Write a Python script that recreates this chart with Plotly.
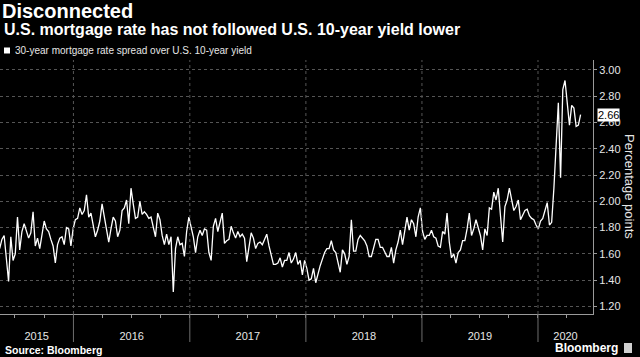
import pandas as pd
import plotly.graph_objects as go

# ---------------- data ----------------
start_date = "2015-05-14"
spread = [
    1.64, 1.71, 1.74, 1.53, 1.39, 1.73, 1.55, 1.60, 1.88, 1.63,
    1.77, 1.83, 1.78, 1.72, 1.76, 1.92, 1.66, 1.72, 1.64, 1.74,
    1.85, 1.79, 1.77, 1.71, 1.66, 1.53, 1.67, 1.72, 1.73, 1.67,
    1.80, 1.79, 1.66, 1.79, 1.86, 1.87, 1.95, 1.90, 1.93, 2.05,
    1.88, 1.91, 1.81, 1.73, 1.78, 1.85, 1.98, 1.88, 1.81, 1.69,
    1.79, 1.88, 1.85, 1.73, 1.78, 1.93, 1.95, 2.01, 1.83, 2.10,
    1.98, 1.87, 1.88, 2.00, 1.90, 1.92, 1.90, 1.87, 1.88, 1.79,
    1.73, 1.91, 1.86, 1.74, 1.67, 1.75, 1.67, 1.73, 1.31, 1.64,
    1.73, 1.67, 1.68, 1.58, 1.77, 1.88, 1.81, 1.73, 1.61, 1.73,
    1.78, 1.74, 1.79, 1.78, 1.61, 1.55, 1.81, 1.87, 1.77, 1.85,
    1.91, 1.68, 1.70, 1.71, 1.81, 1.76, 1.72, 1.77, 1.73, 1.75,
    1.72, 1.54, 1.64, 1.76, 1.72, 1.64, 1.68, 1.69, 1.67, 1.71,
    1.75, 1.66, 1.58, 1.52, 1.52, 1.53, 1.57, 1.50, 1.55, 1.55,
    1.61, 1.53, 1.56, 1.61, 1.52, 1.55, 1.44, 1.55, 1.49, 1.40,
    1.41, 1.49, 1.38, 1.45, 1.51, 1.56, 1.61, 1.64, 1.64, 1.70,
    1.63, 1.61, 1.54, 1.46, 1.63, 1.60, 1.52, 1.58, 1.86, 1.62,
    1.62, 1.71, 1.74, 1.72, 1.70, 1.66, 1.58, 1.58, 1.65, 1.71,
    1.71, 1.65, 1.65, 1.61, 1.58, 1.58, 1.65, 1.53, 1.63, 1.69,
    1.78, 1.67, 1.79, 1.88, 1.78, 1.86, 1.83, 1.73, 1.88, 1.95,
    1.77, 1.71, 1.74, 1.74, 1.78, 1.73, 1.72, 1.66, 1.65, 1.77,
    1.75, 1.91, 1.69, 1.57, 1.60, 1.53, 1.61, 1.63, 1.70, 1.70,
    1.79, 1.91, 1.74, 1.79, 1.86, 1.79, 1.74, 1.63, 1.79, 1.74,
    1.95, 1.94, 2.07, 2.01, 2.10, 1.89, 1.69, 1.96, 2.01, 2.10,
    2.01, 1.93, 1.96, 2.01, 1.86, 1.89, 1.93, 1.94, 1.89, 1.87,
    1.86, 1.82, 1.79, 1.85, 1.87, 1.93, 1.99, 1.82, 1.84, 2.10,
    2.44, 2.75, 2.18, 2.85, 2.92, 2.72, 2.58, 2.73, 2.71, 2.57,
    2.58, 2.66,
]
years = ["2015", "2016", "2017", "2018", "2019", "2020"]
y_ticks = [1.20, 1.40, 1.60, 1.80, 2.00, 2.20, 2.40, 2.60, 2.80, 3.00]
series_name = "30-year mortgage rate spread over U.S. 10-year yield"

dates = pd.date_range(start_date, periods=len(spread), freq="7D")
last_value = spread[-1]

# ---------------- layout constants ----------------
W, H = 640, 357
ML, MR, MT, MB = 0, 47, 60, 43
PW, PH = W - ML - MR, H - MT - MB
x_range = [pd.Timestamp("2015-05-15"), pd.Timestamp("2020-06-22")]
y_range = [1.142, 3.076]
FONT = "Liberation Sans, Arial, sans-serif"
GRID = "#555555"
AXIS = "#9a9a9a"
TXT = "#e6e6e6"


def py(px_y):
    """pixel y (from top of page) -> paper y"""
    return (H - MB - px_y) / PH


def px(px_x):
    return (px_x - ML) / PW


# year label positions: centre of the visible part of each year
mids = []
for yr in years:
    a = max(pd.Timestamp(f"{yr}-01-01"), x_range[0])
    b = min(pd.Timestamp(f"{int(yr) + 1}-01-01"), x_range[1])
    mids.append(a + (b - a) / 2)

fig = go.Figure()
fig.add_trace(go.Scatter(
    x=dates, y=spread, mode="lines", name=series_name,
    line=dict(color="white", width=1.3), showlegend=False,
))

shapes = []
for yr in years[1:]:
    d = pd.Timestamp(f"{yr}-01-01")
    shapes.append(dict(type="line", xref="x", yref="paper", x0=d, x1=d,
                       y0=0, y1=1, line=dict(color=GRID, width=1, dash="dot")))
    shapes.append(dict(type="line", xref="x", yref="paper", x0=d, x1=d,
                       y0=py(342), y1=0, line=dict(color="#6e6e6e", width=1)))
# legend square
shapes.append(dict(type="rect", xref="paper", yref="paper",
                   x0=px(4), x1=px(10), y0=py(53.5), y1=py(47.5),
                   fillcolor="white", line=dict(width=0)))
# Bloomberg logo square
shapes.append(dict(type="rect", xref="paper", yref="paper",
                   x0=px(624), x1=px(632), y0=py(353), y1=py(343),
                   fillcolor="#d0d0d0", line=dict(width=0)))

annotations = [
    dict(text="U.S. mortgage rate has not followed U.S. 10-year yield lower",
         xref="paper", yref="paper", x=px(2), y=py(29), xanchor="left",
         yanchor="middle", showarrow=False,
         font=dict(family=FONT, size=16, color="white", weight="bold")),
    dict(text=series_name, xref="paper", yref="paper", x=px(13), y=py(50.5),
         xanchor="left", yanchor="middle", showarrow=False,
         font=dict(family=FONT, size=10, color=TXT)),
    dict(text=f"{last_value:.2f}", xref="paper", yref="y", x=1, y=last_value,
         xanchor="left", yanchor="middle", xshift=4, showarrow=False,
         bgcolor="white", borderpad=0,
         font=dict(family=FONT, size=11, color="black")),
    dict(text="Percentage points", xref="paper", yref="paper", x=px(630),
         y=py(186), xanchor="center", yanchor="middle", textangle=90,
         showarrow=False, font=dict(family=FONT, size=13, color=TXT)),
    dict(text="Source: Bloomberg", xref="paper", yref="paper", x=px(3),
         y=py(350), xanchor="left", yanchor="middle", showarrow=False,
         font=dict(family=FONT, size=10.5, color="white", weight="bold")),
    dict(text="Bloomberg", xref="paper", yref="paper", x=px(620),
         y=py(348), xanchor="right", yanchor="middle", showarrow=False,
         font=dict(family=FONT, size=12, color="white", weight="bold")),
]

fig.update_layout(
    width=W, height=H,
    margin=dict(l=ML, r=MR, t=MT, b=MB, pad=0),
    paper_bgcolor="black", plot_bgcolor="black",
    title=dict(text="<b>Disconnected</b>", xref="container", yref="container",
               x=2 / W, y=1 - 11 / H, xanchor="left", yanchor="middle",
               font=dict(family=FONT, size=20, color="white")),
    shapes=shapes, annotations=annotations, showlegend=False,
    xaxis=dict(
        type="date", range=x_range, showgrid=False, zeroline=False,
        tickvals=mids, ticktext=years, ticks="", ticklabelstandoff=12,
        tickfont=dict(family=FONT, size=11, color=TXT),
        showline=True, linecolor=AXIS, linewidth=1,
        minor=dict(ticks="outside", ticklen=3, tickcolor=AXIS,
                   dtick="M3", tick0="2015-01-01", showgrid=False),
    ),
    yaxis=dict(
        side="right", range=y_range, tickvals=y_ticks, tickformat=".2f",
        showgrid=True, gridcolor=GRID, griddash="dot", gridwidth=1,
        zeroline=False, showline=True, linecolor=AXIS, linewidth=1,
        ticks="outside", ticklen=3, tickcolor=AXIS,
        tickfont=dict(family=FONT, size=11, color=TXT),
    ),
)

fig.write_html(
    "out.html",
    config={"displayModeBar": False},
    post_script="document.body.style.margin='0';document.body.style.background='black';",
)
